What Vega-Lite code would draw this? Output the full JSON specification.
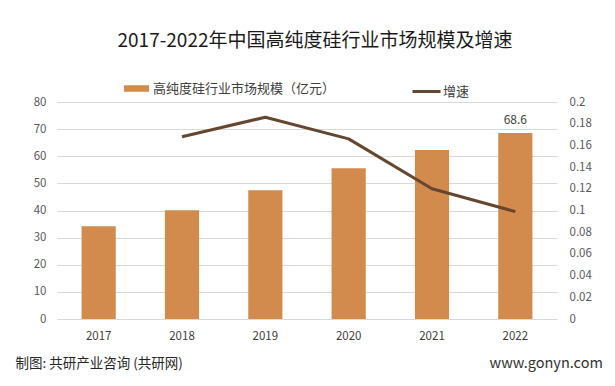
{
  "$schema": "https://vega.github.io/schema/vega-lite/v6.json",
  "width": 500,
  "height": 217,
  "autosize": {"type": "none"},
  "padding": {"left": 57, "top": 102, "right": 58, "bottom": 67},
  "background": "white",
  "title": {
    "text": "2017-2022年中国高纯度硅行业市场规模及增速",
    "anchor": "middle",
    "dx": 8,
    "offset": 25,
    "fontSize": 19,
    "fontWeight": "normal",
    "font": "Noto Sans CJK SC",
    "color": "#1a1a1a"
  },
  "config": {
    "view": {"stroke": null},
    "font": "Noto Sans CJK SC"
  },
  "data": {
    "values": [
      {"year": "2017", "size": 34.2, "growth": null},
      {"year": "2018", "size": 40.1, "growth": 0.168},
      {"year": "2019", "size": 47.5, "growth": 0.186},
      {"year": "2020", "size": 55.6, "growth": 0.166},
      {"year": "2021", "size": 62.3, "growth": 0.120},
      {"year": "2022", "size": 68.6, "growth": 0.099}
    ]
  },
  "encoding": {
    "x": {
      "field": "year",
      "type": "ordinal",
      "scale": {"paddingInner": 0.59, "paddingOuter": 0.295},
      "axis": {
        "labelAngle": 0,
        "labelFontSize": 11.5,
        "labelColor": "#404040",
        "labelPadding": 11,
        "domain": true,
        "domainColor": "#D9D9D9",
        "ticks": false,
        "title": "制图: 共研产业咨询 (共研网)",
        "titleAnchor": "start",
        "titleAlign": "left",
        "titleX": -42,
        "titleY": 44,
        "titleBaseline": "middle",
        "titleFontSize": 13.5,
        "titleFontWeight": "normal",
        "titleColor": "#262626"
      }
    }
  },
  "layer": [
    {
      "encoding": {
        "y": {
          "field": "size",
          "type": "quantitative",
          "scale": {"domain": [0, 80], "nice": false},
          "axis": {
            "values": [0, 10, 20, 30, 40, 50, 60, 70, 80],
            "grid": true,
            "gridColor": "#D9D9D9",
            "domain": false,
            "ticks": false,
            "title": null,
            "labelFontSize": 11.5,
            "labelColor": "#595959",
            "labelPadding": 11
          }
        }
      },
      "layer": [
        {
          "mark": {"type": "bar", "color": "#D28A4D"},
          "encoding": {
            "fill": {
              "datum": "高纯度硅行业市场规模（亿元）",
              "scale": {"range": ["#D28A4D"]},
              "legend": {
                "orient": "none",
                "legendX": 67,
                "legendY": -26,
                "title": null,
                "symbolType": "M-1,-0.26L1,-0.26L1,0.26L-1,0.26Z",
                "symbolSize": 625,
                "symbolStrokeWidth": 0,
                "labelFontSize": 13,
                "labelColor": "#404040",
                "labelOffset": 4,
                "labelLimit": 400
              }
            }
          }
        },
        {
          "transform": [{"filter": "datum.year == '2022'"}],
          "mark": {"type": "text", "dy": -13, "fontSize": 12, "color": "#404040", "baseline": "middle"},
          "encoding": {
            "text": {"field": "size", "type": "quantitative", "format": ".1f"}
          }
        }
      ]
    },
    {
      "mark": {"type": "line", "strokeWidth": 3, "strokeJoin": "round", "strokeCap": "butt"},
      "encoding": {
        "y": {
          "field": "growth",
          "type": "quantitative",
          "scale": {"domain": [0, 0.2], "nice": false},
          "axis": {
            "orient": "right",
            "values": [0, 0.02, 0.04, 0.06, 0.08, 0.1, 0.12, 0.14, 0.16, 0.18, 0.2],
            "format": ".2~f",
            "grid": false,
            "domain": false,
            "ticks": false,
            "labelFontSize": 11.5,
            "labelColor": "#595959",
            "labelPadding": 12,
            "title": "www.gonyn.com",
            "titleAngle": 0,
            "titleAlign": "left",
            "titleBaseline": "middle",
            "titleX": -68,
            "titleY": 261,
            "titleFontSize": 14.5,
            "titleFontWeight": "normal",
            "titleColor": "#333333"
          }
        },
        "stroke": {
          "datum": "增速",
          "scale": {"range": ["#654730"]},
          "legend": {
            "orient": "none",
            "legendX": 354,
            "legendY": -26,
            "title": null,
            "symbolType": "stroke",
            "symbolSize": 784,
            "symbolStrokeWidth": 3,
            "labelFontSize": 13,
            "labelColor": "#404040",
            "labelOffset": 1
          }
        }
      }
    }
  ],
  "resolve": {"scale": {"y": "independent"}}
}
